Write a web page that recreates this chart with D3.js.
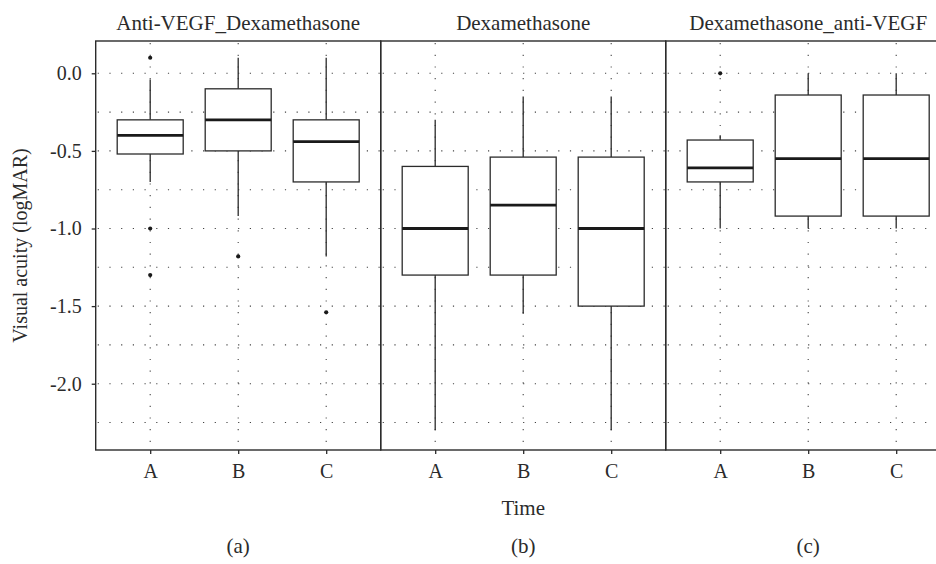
<!DOCTYPE html>
<html>
<head>
<meta charset="utf-8">
<script src="https://cdn.jsdelivr.net/npm/d3@7"></script>
<style>
  html, body { margin: 0; padding: 0; background: #fff; }
  svg { display: block; font-family: "Liberation Serif", "Times New Roman", serif; }
</style>
</head>
<body>
<div id="chart"></div>
<script>
// Visual acuity by treatment group and time point (box plots, 3 panels)

const GROUPS       = ['Anti-VEGF_Dexamethasone', 'Dexamethasone', 'Dexamethasone_anti-VEGF'];
const PANEL_LABELS = ['(a)', '(b)', '(c)'];
const TIMES        = ['A', 'B', 'C'];

// per group, per time (A, B, C)
const WHISK_LO = [[-0.70, -0.92, -1.18], [-2.30, -1.55, -2.30], [-1.00, -1.00, -1.00]];
const Q1       = [[-0.52, -0.50, -0.70], [-1.30, -1.30, -1.50], [-0.70, -0.92, -0.92]];
const MEDIAN   = [[-0.40, -0.30, -0.44], [-1.00, -0.85, -1.00], [-0.61, -0.55, -0.55]];
const Q3       = [[-0.30, -0.10, -0.30], [-0.60, -0.54, -0.54], [-0.43, -0.14, -0.14]];
const WHISK_HI = [[-0.04,  0.10,  0.10], [-0.30, -0.15, -0.15], [-0.40,  0.00,  0.00]];
const OUTLIERS = [[[0.10, -1.00, -1.30], [-1.18], [-1.54]], [[], [], []], [[0.00], [], []]];

const Y_TICKS       = [0, -0.5, -1.0, -1.5, -2.0];
const Y_TICK_LABELS = ['0.0', '-0.5', '-1.0', '-1.5', '-2.0'];
const Y_GRID        = [0, -0.25, -0.5, -0.75, -1.0, -1.25, -1.5, -1.75, -2.0, -2.25];

const W = 936, H = 564;
const PLOT_L = 95.7, PANEL_W = 285, TOP = 41, BOTTOM = 450;
const TICK_FONT = 20, LABEL_FONT = 21;
const INK = '#2b2b2b';

const svg = d3.select('#chart').append('svg')
  .attr('width', W)
  .attr('height', H)
  .attr('viewBox', `0 0 ${W} ${H}`);

svg.append('rect').attr('width', W).attr('height', H).attr('fill', '#fff');

const y = d3.scaleLinear().domain([-2.427, 0.208]).range([BOTTOM, TOP]);

GROUPS.forEach((grp, gi) => {
  const left  = PLOT_L + gi * PANEL_W;
  const right = left + PANEL_W;
  const x = d3.scalePoint().domain(TIMES).range([left + 54.5, right - 54.5]);

  const clipId = `clip-${gi}`;
  svg.append('clipPath').attr('id', clipId)
    .append('rect').attr('x', left).attr('y', TOP).attr('width', PANEL_W).attr('height', BOTTOM - TOP);

  const g = svg.append('g').attr('clip-path', `url(#${clipId})`);

  // dotted grid
  g.selectAll('line.hgrid').data(Y_GRID).join('line')
    .attr('class', 'hgrid')
    .attr('x1', left + 2).attr('x2', right)
    .attr('y1', d => y(d)).attr('y2', d => y(d))
    .attr('stroke', '#444').attr('stroke-width', 1.1)
    .attr('stroke-dasharray', '1.2,10.5');
  g.selectAll('line.vgrid').data(TIMES).join('line')
    .attr('class', 'vgrid')
    .attr('x1', d => x(d)).attr('x2', d => x(d))
    .attr('y1', TOP + 2).attr('y2', BOTTOM)
    .attr('stroke', '#444').attr('stroke-width', 1.1)
    .attr('stroke-dasharray', '1.2,10.5');

  const boxW = 66;
  TIMES.forEach((t, ti) => {
    const cx = x(t);
    // whiskers
    g.append('line')
      .attr('x1', cx).attr('x2', cx)
      .attr('y1', y(WHISK_HI[gi][ti])).attr('y2', y(Q3[gi][ti]))
      .attr('stroke', INK).attr('stroke-width', 1.3);
    g.append('line')
      .attr('x1', cx).attr('x2', cx)
      .attr('y1', y(Q1[gi][ti])).attr('y2', y(WHISK_LO[gi][ti]))
      .attr('stroke', INK).attr('stroke-width', 1.3);
    // box
    g.append('rect')
      .attr('x', cx - boxW / 2).attr('width', boxW)
      .attr('y', y(Q3[gi][ti])).attr('height', y(Q1[gi][ti]) - y(Q3[gi][ti]))
      .attr('fill', '#fff').attr('stroke', INK).attr('stroke-width', 1.3);
    // median
    g.append('line')
      .attr('x1', cx - boxW / 2).attr('x2', cx + boxW / 2)
      .attr('y1', y(MEDIAN[gi][ti])).attr('y2', y(MEDIAN[gi][ti]))
      .attr('stroke', '#1a1a1a').attr('stroke-width', 2.8);
    // outliers
    g.selectAll(null).data(OUTLIERS[gi][ti]).join('circle')
      .attr('cx', cx).attr('cy', d => y(d)).attr('r', 2.1)
      .attr('fill', '#1a1a1a');
  });

  // panel frame
  svg.append('rect')
    .attr('x', left).attr('y', TOP).attr('width', PANEL_W).attr('height', BOTTOM - TOP)
    .attr('fill', 'none').attr('stroke', INK).attr('stroke-width', 1.4);

  // x axis
  const xAxis = svg.append('g')
    .attr('transform', `translate(0,${BOTTOM})`)
    .call(d3.axisBottom(x).tickSize(4).tickSizeOuter(0));
  xAxis.select('.domain').remove();
  xAxis.selectAll('.tick line').attr('stroke', INK).attr('stroke-width', 1.3);
  xAxis.selectAll('.tick text')
    .attr('y', 27.7).attr('dy', 0)
    .attr('fill', INK).style('font-size', TICK_FONT + 'px').style('font-family', 'Liberation Serif');

  // panel title
  svg.append('text')
    .attr('x', (left + right) / 2).attr('y', 30)
    .attr('text-anchor', 'middle')
    .attr('fill', INK).style('font-size', LABEL_FONT + 'px')
    .text(grp);

  // panel letter
  svg.append('text')
    .attr('x', (left + right) / 2).attr('y', 553)
    .attr('text-anchor', 'middle')
    .attr('fill', INK).style('font-size', LABEL_FONT + 'px')
    .text(PANEL_LABELS[gi]);
});

// y axis (left of first panel)
const yAxis = svg.append('g')
  .attr('transform', `translate(${PLOT_L},0)`)
  .call(d3.axisLeft(y).tickValues(Y_TICKS).tickSize(4).tickPadding(10)
    .tickFormat((d, i) => Y_TICK_LABELS[i]));
yAxis.select('.domain').remove();
yAxis.selectAll('.tick line').attr('stroke', INK).attr('stroke-width', 1.3);
yAxis.selectAll('.tick text')
  .attr('fill', INK).style('font-size', TICK_FONT + 'px').style('font-family', 'Liberation Serif');

// axis titles
svg.append('text')
  .attr('x', PLOT_L + 1.5 * PANEL_W).attr('y', 515)
  .attr('text-anchor', 'middle')
  .attr('fill', INK).style('font-size', LABEL_FONT + 'px')
  .text('Time');

svg.append('text')
  .attr('transform', `translate(27,${(TOP + BOTTOM) / 2}) rotate(-90)`)
  .attr('text-anchor', 'middle')
  .attr('fill', INK).style('font-size', TICK_FONT + 'px')
  .text('Visual acuity (logMAR)');
</script>
</body>
</html>
